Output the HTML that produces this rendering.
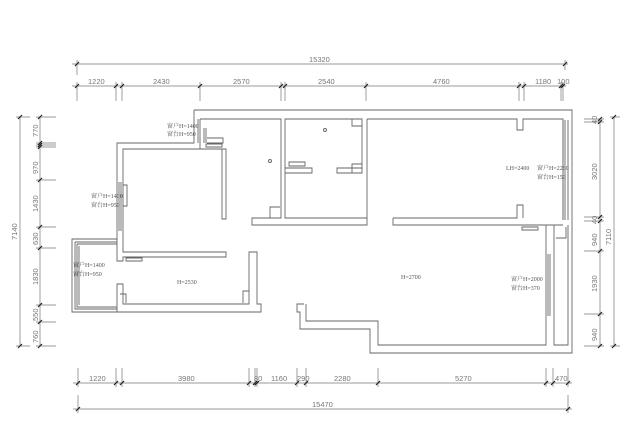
<!DOCTYPE html>
<html><head><meta charset="utf-8"><style>
html,body{margin:0;padding:0;background:#fff;width:640px;height:446px;overflow:hidden}
svg{display:block}
.w{fill:none;stroke:#666;stroke-width:0.9}
.d{fill:none;stroke:#777;stroke-width:0.7}
.t{stroke:#222;stroke-width:1.2}
.n{font-family:"Liberation Sans",sans-serif;font-size:7.5px;fill:#777}
.l{font-family:"Liberation Serif","Noto Serif CJK SC",serif;font-size:6px;fill:#555}
</style></head><body>
<svg width="640" height="446" viewBox="0 0 640 446" xmlns="http://www.w3.org/2000/svg">
<!-- top dims -->
<path class="d" d="M72 64H568 M77 60V75 M565 60V70 M72 86H566 M77 82V101 M116 82V101 M122 82V101 M200 82V101 M281 82V101 M285 82V101 M366 82V101 M519 82V101 M524 82V101 M561 82V101 M563 82V101"/>
<g class="t"><path d="M75 66L79 62M563 66L567 62M75 88L79 84M114 88L118 84M120 88L124 84M198 88L202 84M279 88L283 84M283 88L287 84M364 88L368 84M517 88L521 84M522 88L526 84M559 88L563 84M561 88L565 84"/></g>
<text class="n" x="309" y="62">15320</text>
<text class="n" x="88" y="84">1220</text><text class="n" x="153" y="84">2430</text>
<text class="n" x="233" y="84">2570</text><text class="n" x="318" y="84">2540</text>
<text class="n" x="433" y="84">4760</text><text class="n" x="535" y="84">1180</text><text class="n" x="557" y="84">100</text>
<!-- left dims -->
<path class="d" d="M20 117V346 M16 117H30 M16 346H30 M40 117V346 M36 117H56 M36 143H56 M36 145H56 M36 147H56 M36 180H56 M36 227H56 M36 248H56 M36 305H56 M36 322H56 M36 346H56"/>
<g class="t"><path d="M18 119L22 115M18 348L22 344M38 119L42 115M38 145L42 141M38 147L42 143M38 149L42 145M38 182L42 178M38 229L42 225M38 250L42 246M38 307L42 303M38 324L42 320M38 348L42 344"/></g>
<g class="n">
<text transform="translate(17,240) rotate(-90)">7140</text>
<text transform="translate(38,137) rotate(-90)">770</text>
<text transform="translate(38,174) rotate(-90)">970</text>
<text transform="translate(38,212) rotate(-90)">1430</text>
<text transform="translate(38,245) rotate(-90)">630</text>
<text transform="translate(38,285) rotate(-90)">1830</text>
<text transform="translate(38,321) rotate(-90)">550</text>
<text transform="translate(38,343) rotate(-90)">760</text>
</g>
<!-- right dims -->
<path class="d" d="M614 117V346 M610 117H620 M610 346H620 M600 119V346 M584 119H604 M584 122H604 M584 217H604 M584 221H604 M584 251H604 M584 314H604 M584 346H604"/>
<g class="t"><path d="M612 119L616 115M612 348L616 344M598 121L602 117M598 124L602 120M598 219L602 215M598 223L602 219M598 253L602 249M598 316L602 312M598 348L602 344"/></g>
<g class="n">
<text transform="translate(597,180) rotate(-90)">3020</text>
<text transform="translate(611,245) rotate(-90)">7110</text>
<text transform="translate(597,246) rotate(-90)">940</text>
<text transform="translate(597,292) rotate(-90)">1930</text>
<text transform="translate(597,341) rotate(-90)">940</text>
<text transform="translate(597,124) rotate(-90)">40</text>
<text transform="translate(597,224) rotate(-90)">40</text>
</g>
<!-- bottom dims -->
<path class="d" d="M73 383H572 M78 368V387 M116 368V387 M122 368V387 M249 368V387 M255 368V387 M257 368V387 M297 368V387 M306 368V387 M378 368V387 M546 368V387 M553 368V387 M568 368V387 M73 409H572 M78 395V413 M568 395V413"/>
<g class="t"><path d="M76 385L80 381M114 385L118 381M120 385L124 381M247 385L251 381M253 385L257 381M255 385L259 381M295 385L299 381M304 385L308 381M376 385L380 381M544 385L548 381M551 385L555 381M566 385L570 381M76 411L80 407M566 411L570 407"/></g>
<text class="n" x="89" y="381">1220</text><text class="n" x="178" y="381">3980</text>
<text class="n" x="254" y="381">80</text><text class="n" x="271" y="381">1160</text><text class="n" x="297" y="381">290</text>
<text class="n" x="334" y="381">2280</text><text class="n" x="455" y="381">5270</text><text class="n" x="555" y="381">470</text>
<text class="n" x="312" y="407">15470</text>
<!-- walls -->
<path class="w" d="M194 110H572V353H370V329H300V312H297V304H304"/>
<path class="w" d="M306 304V321H378V345H546V225H554V345H568V225"/>
<path class="w" d="M200 119H281V218H252V225H367V218H285V119H362V173H337V168H362 M285 173H312V168H285"/>
<path class="w" d="M367 119V218 M367 119H517V130H523V119H563V220 M393 218V225H563 M393 218H517V205H523V218"/>
<path class="w" d="M194 110V143H117V261H123V257H226V252H123V149H222V219H226V149H200V143 M198 119V143 M200 119V143"/>
<path class="w" d="M117 284V312H261V304H257V252H249V304H123V284Z"/>
<path class="w" d="M117 239H72V277 M72 239V312H117 M75 242H117M75 242V309H117 M77 244H117M77 244V307H117 M79 246V305"/>
<path class="w" d="M563 120V220 M565 120V220 M568 120V220 M548 254V316 M550 254V316 M119 182V231 M121 182V231 M123 185H127V206H123 M204 128V143 M206 128V143 M207 138H223V143H207"/>
<path class="w" d="M289 162H305V166H289Z M522 227H538V230H522Z M126 258H142V261H126Z M206 144H222V147H206Z"/>
<path class="w" d="M270 218V207H280 M352 119V126H362 M352 173V164H362 M120 294H126V303 M243 303V291H249 M556 238H566V227"/>
<circle cx="270" cy="161" r="1.5" class="w"/><circle cx="325" cy="130" r="1.5" class="w"/>
<!-- labels -->
<g class="l">
<text x="167" y="128">窗户H=1400</text><text x="167" y="136">窗台H=950</text>
<text x="91" y="198">窗户H=1400</text><text x="91" y="207">窗台H=950</text>
<text x="73" y="267">窗户H=1400</text><text x="73" y="276">窗台H=950</text>
<text x="177" y="284">H=2530</text>
<text x="401" y="279">H=2700</text>
<text x="506" y="170">LH=2400</text><text x="537" y="170">窗户H=2260</text><text x="537" y="179">窗台H=150</text>
<text x="511" y="281">窗户H=2000</text><text x="511" y="290">窗台H=370</text>
</g>
</svg>
</body></html>
